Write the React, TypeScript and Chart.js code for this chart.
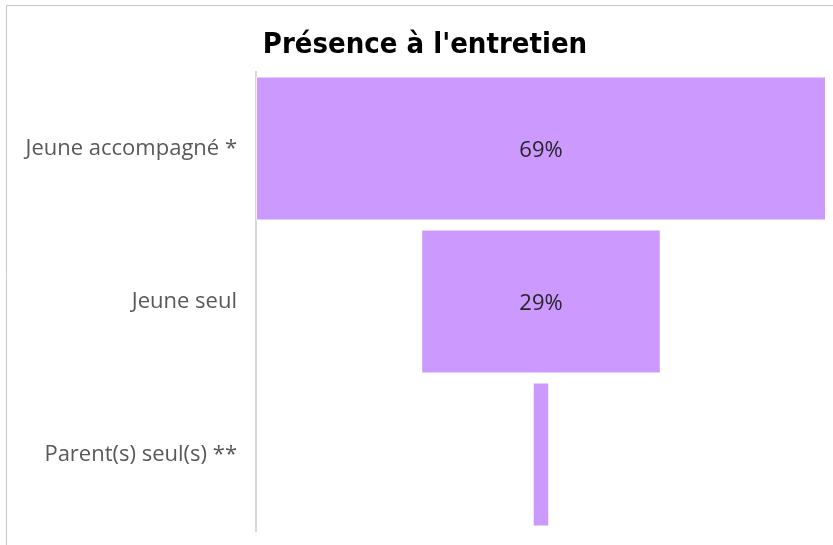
import React, { useEffect, useRef } from "react";
import { Chart, registerables } from "chart.js";

Chart.register(...registerables);

const title = "Présence à l'entretien";
const categories = ["Jeune accompagné *", "Jeune seul", "Parent(s) seul(s) **"];
const values = [69, 29, 2];
const valueLabels = ["69%", "29%", ""];

export default function App() {
  const ref = useRef<HTMLCanvasElement | null>(null);
  useEffect(() => {
    if (!ref.current) return;
    const maxV = Math.max(...values);
    const floating = values.map((v) => [(maxV - v) / 2, (maxV + v) / 2]);
    const overlay = {
      id: "overlay",
      beforeDraw(chart: any) {
        const ctx = chart.ctx;
        ctx.save();
        ctx.fillStyle = "#ffffff";
        ctx.fillRect(0, 0, chart.width, chart.height);
        ctx.strokeStyle = "#c8c8c8";
        ctx.lineWidth = 1;
        ctx.beginPath();
        ctx.moveTo(6.5, chart.height);
        ctx.lineTo(6.5, 5.5);
        ctx.lineTo(chart.width, 5.5);
        ctx.stroke();
        ctx.restore();
      },
      afterDatasetsDraw(chart: any) {
        const ctx = chart.ctx;
        const meta = chart.getDatasetMeta(0);
        ctx.save();
        ctx.fillStyle = "#262626";
        ctx.font = "22px 'Open Sans', sans-serif";
        ctx.textAlign = "center";
        ctx.textBaseline = "middle";
        meta.data.forEach((bar: any, i: number) => {
          const cx = (bar.x + bar.base) / 2;
          if (valueLabels[i]) ctx.fillText(valueLabels[i], cx, bar.y + 2);
        });
        ctx.restore();
      },
      afterDraw(chart: any) {
        const ctx = chart.ctx;
        ctx.save();
        ctx.fillStyle = "#000000";
        ctx.font = "bold 29px 'DejaVu Sans Condensed', 'Liberation Sans Narrow', sans-serif";
        ctx.textAlign = "center";
        ctx.textBaseline = "alphabetic";
        ctx.fillText(title, 425, 53);
        ctx.restore();
      },
    };
    const chart = new Chart(ref.current, {
      type: "bar",
      data: {
        labels: categories,
        datasets: [
          {
            data: floating as any,
            backgroundColor: "#CC99FF",
            borderColor: "rgba(255,255,255,0.6)",
            borderWidth: 1,
            borderSkipped: false,
            barPercentage: 0.94,
            categoryPercentage: 1,
          },
        ],
      },
      options: {
        indexAxis: "y",
        responsive: false,
        animation: false,
        devicePixelRatio: 1,
        layout: { padding: { top: 72, right: 7, bottom: 14, left: 0 } },
        plugins: { legend: { display: false }, tooltip: { enabled: false }, title: { display: false } },
        scales: {
          x: { display: false, min: 0, max: maxV },
          y: {
            afterFit(scale: any) {
              scale.width = 256;
              scale.paddingTop = 0;
              scale.paddingBottom = 0;
            },
            grid: { display: false, drawTicks: false },
            border: { display: true, color: "#d9d9d9", width: 2 },
            ticks: {
              padding: 19,
              color: "#595959",
              font: { family: "'Open Sans', sans-serif", size: 22 },
            },
          },
        },
      },
      plugins: [overlay],
    });
    return () => chart.destroy();
  }, []);
  return (
    <div style={{ position: "absolute", left: 0, top: 0, width: 833, height: 545, background: "#fff", overflow: "hidden" }}>
      <canvas ref={ref} width={833} height={545} style={{ position: "absolute", left: 0, top: 0, display: "block" }} />
    </div>
  );
}
